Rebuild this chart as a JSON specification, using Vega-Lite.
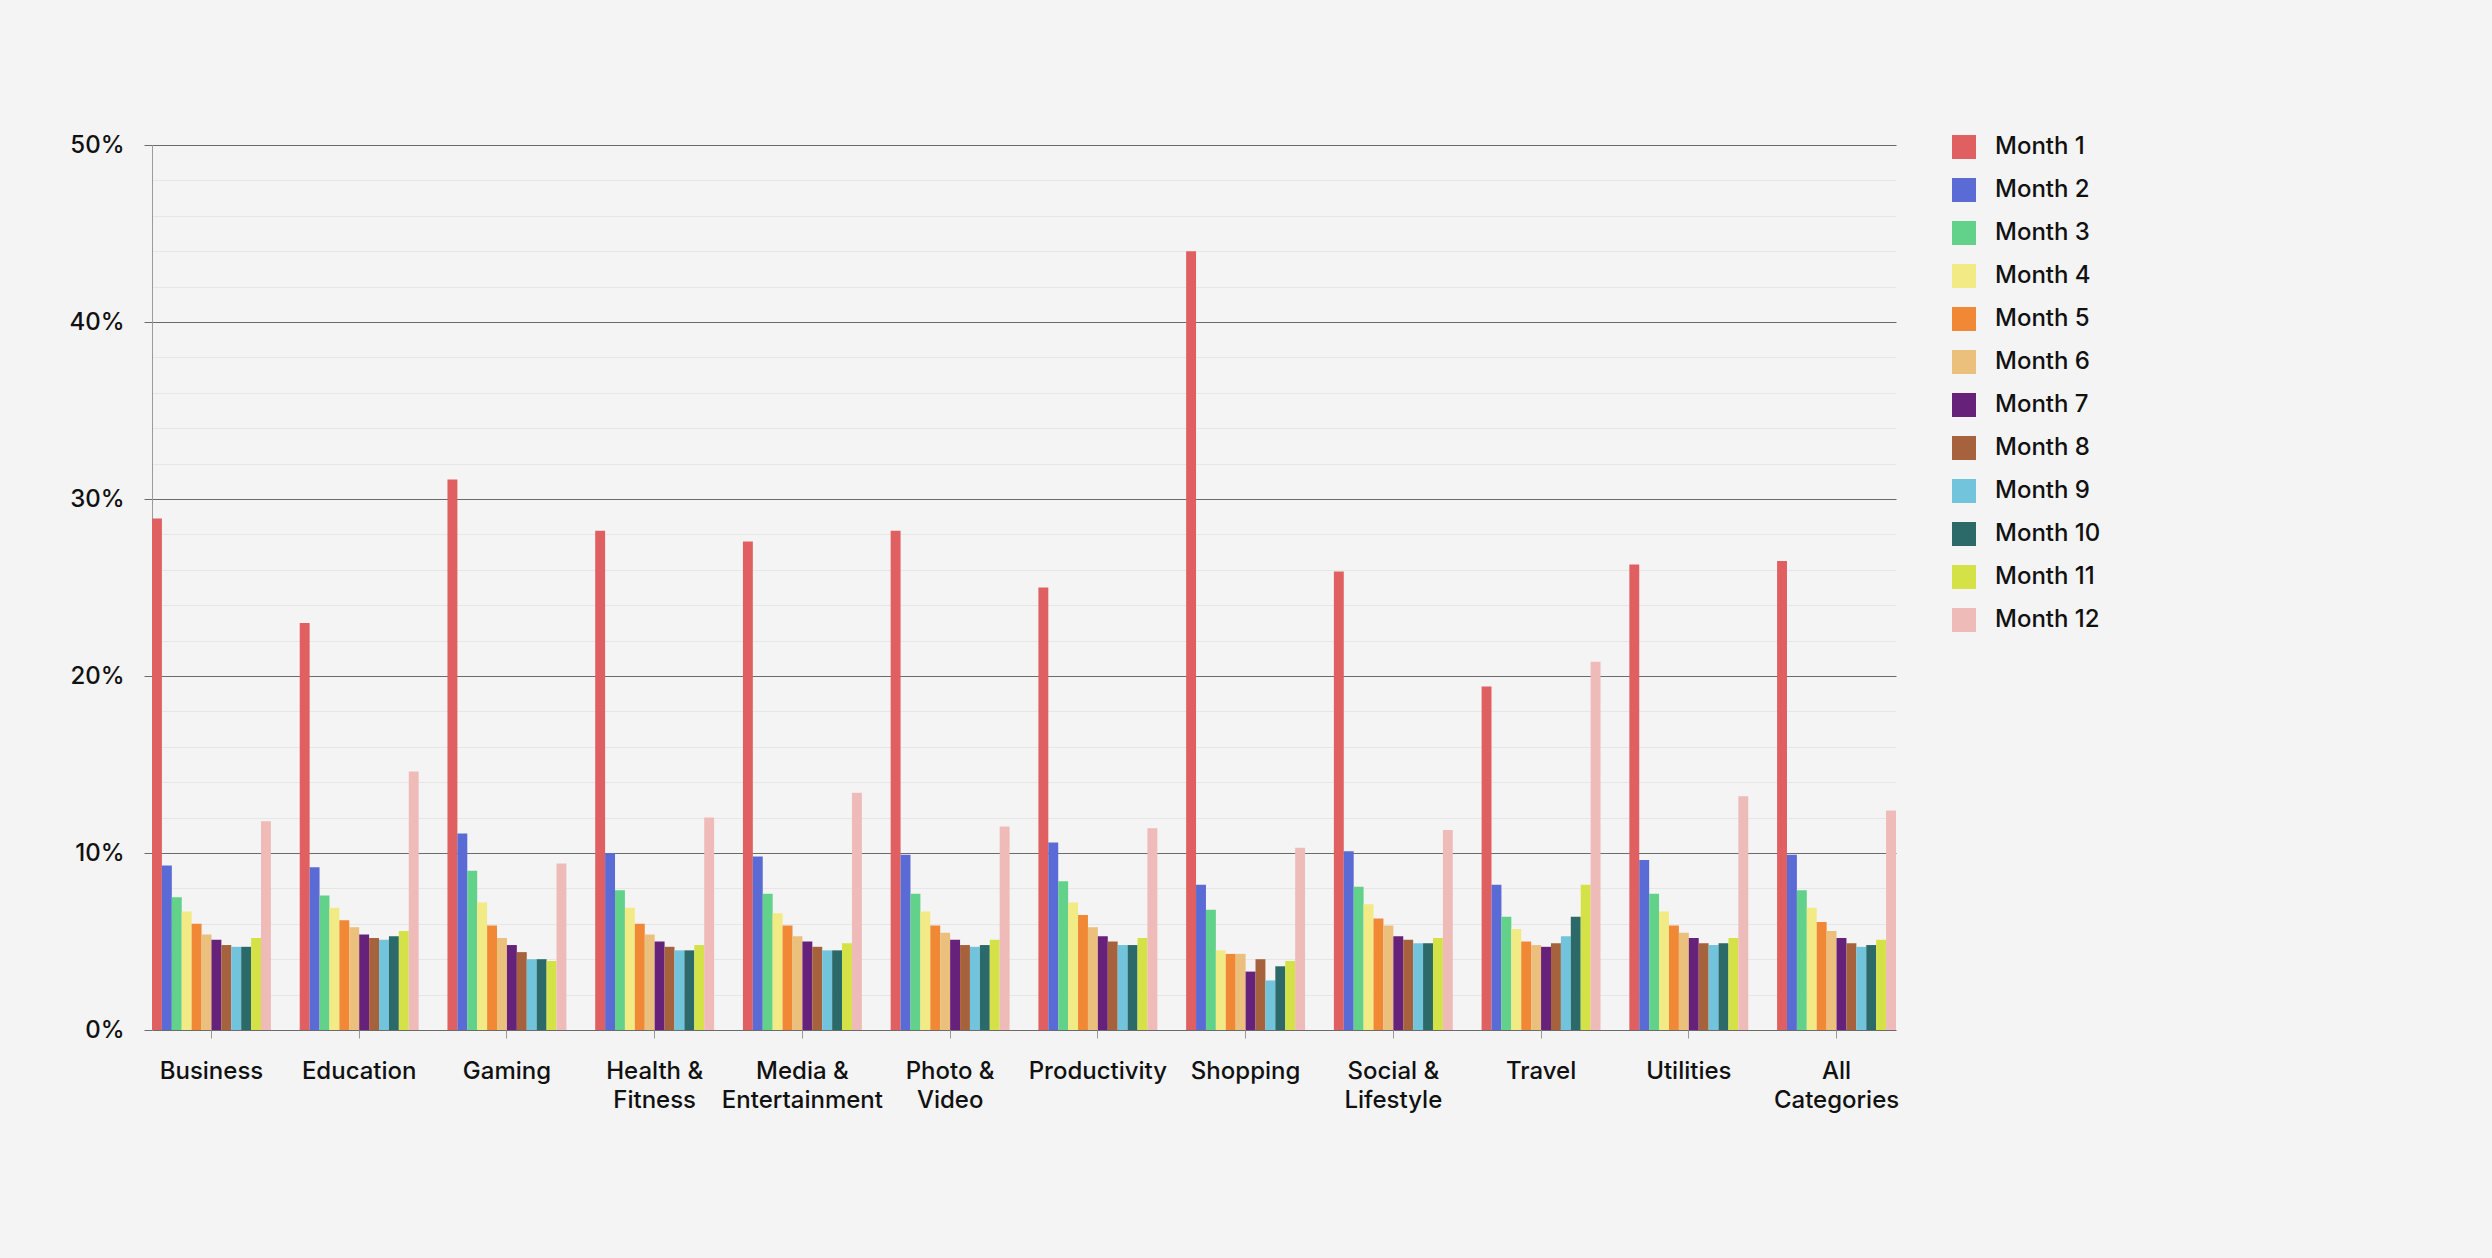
{
  "$schema": "https://vega.github.io/schema/vega-lite/v6.json",
  "width": 1744,
  "height": 885,
  "autosize": {"type": "none"},
  "padding": {"left": 152, "top": 145, "right": 596, "bottom": 228},
  "background": "#f4f4f4",
  "config": {
    "view": {"stroke": null},
    "font": "Inter",
    "axis": {"labelFont": "Inter", "labelColor": "#111111", "labelFontWeight": 500}
  },
  "data": {
    "values": [
      {"category": "Business", "month": "Month 1", "value": 28.9},
      {"category": "Business", "month": "Month 2", "value": 9.3},
      {"category": "Business", "month": "Month 3", "value": 7.5},
      {"category": "Business", "month": "Month 4", "value": 6.7},
      {"category": "Business", "month": "Month 5", "value": 6.0},
      {"category": "Business", "month": "Month 6", "value": 5.4},
      {"category": "Business", "month": "Month 7", "value": 5.1},
      {"category": "Business", "month": "Month 8", "value": 4.8},
      {"category": "Business", "month": "Month 9", "value": 4.7},
      {"category": "Business", "month": "Month 10", "value": 4.7},
      {"category": "Business", "month": "Month 11", "value": 5.2},
      {"category": "Business", "month": "Month 12", "value": 11.8},
      {"category": "Education", "month": "Month 1", "value": 23.0},
      {"category": "Education", "month": "Month 2", "value": 9.2},
      {"category": "Education", "month": "Month 3", "value": 7.6},
      {"category": "Education", "month": "Month 4", "value": 6.9},
      {"category": "Education", "month": "Month 5", "value": 6.2},
      {"category": "Education", "month": "Month 6", "value": 5.8},
      {"category": "Education", "month": "Month 7", "value": 5.4},
      {"category": "Education", "month": "Month 8", "value": 5.2},
      {"category": "Education", "month": "Month 9", "value": 5.1},
      {"category": "Education", "month": "Month 10", "value": 5.3},
      {"category": "Education", "month": "Month 11", "value": 5.6},
      {"category": "Education", "month": "Month 12", "value": 14.6},
      {"category": "Gaming", "month": "Month 1", "value": 31.1},
      {"category": "Gaming", "month": "Month 2", "value": 11.1},
      {"category": "Gaming", "month": "Month 3", "value": 9.0},
      {"category": "Gaming", "month": "Month 4", "value": 7.2},
      {"category": "Gaming", "month": "Month 5", "value": 5.9},
      {"category": "Gaming", "month": "Month 6", "value": 5.2},
      {"category": "Gaming", "month": "Month 7", "value": 4.8},
      {"category": "Gaming", "month": "Month 8", "value": 4.4},
      {"category": "Gaming", "month": "Month 9", "value": 4.0},
      {"category": "Gaming", "month": "Month 10", "value": 4.0},
      {"category": "Gaming", "month": "Month 11", "value": 3.9},
      {"category": "Gaming", "month": "Month 12", "value": 9.4},
      {"category": "Health & Fitness", "month": "Month 1", "value": 28.2},
      {"category": "Health & Fitness", "month": "Month 2", "value": 10.0},
      {"category": "Health & Fitness", "month": "Month 3", "value": 7.9},
      {"category": "Health & Fitness", "month": "Month 4", "value": 6.9},
      {"category": "Health & Fitness", "month": "Month 5", "value": 6.0},
      {"category": "Health & Fitness", "month": "Month 6", "value": 5.4},
      {"category": "Health & Fitness", "month": "Month 7", "value": 5.0},
      {"category": "Health & Fitness", "month": "Month 8", "value": 4.7},
      {"category": "Health & Fitness", "month": "Month 9", "value": 4.5},
      {"category": "Health & Fitness", "month": "Month 10", "value": 4.5},
      {"category": "Health & Fitness", "month": "Month 11", "value": 4.8},
      {"category": "Health & Fitness", "month": "Month 12", "value": 12.0},
      {"category": "Media & Entertainment", "month": "Month 1", "value": 27.6},
      {"category": "Media & Entertainment", "month": "Month 2", "value": 9.8},
      {"category": "Media & Entertainment", "month": "Month 3", "value": 7.7},
      {"category": "Media & Entertainment", "month": "Month 4", "value": 6.6},
      {"category": "Media & Entertainment", "month": "Month 5", "value": 5.9},
      {"category": "Media & Entertainment", "month": "Month 6", "value": 5.3},
      {"category": "Media & Entertainment", "month": "Month 7", "value": 5.0},
      {"category": "Media & Entertainment", "month": "Month 8", "value": 4.7},
      {"category": "Media & Entertainment", "month": "Month 9", "value": 4.5},
      {"category": "Media & Entertainment", "month": "Month 10", "value": 4.5},
      {"category": "Media & Entertainment", "month": "Month 11", "value": 4.9},
      {"category": "Media & Entertainment", "month": "Month 12", "value": 13.4},
      {"category": "Photo & Video", "month": "Month 1", "value": 28.2},
      {"category": "Photo & Video", "month": "Month 2", "value": 9.9},
      {"category": "Photo & Video", "month": "Month 3", "value": 7.7},
      {"category": "Photo & Video", "month": "Month 4", "value": 6.7},
      {"category": "Photo & Video", "month": "Month 5", "value": 5.9},
      {"category": "Photo & Video", "month": "Month 6", "value": 5.5},
      {"category": "Photo & Video", "month": "Month 7", "value": 5.1},
      {"category": "Photo & Video", "month": "Month 8", "value": 4.8},
      {"category": "Photo & Video", "month": "Month 9", "value": 4.7},
      {"category": "Photo & Video", "month": "Month 10", "value": 4.8},
      {"category": "Photo & Video", "month": "Month 11", "value": 5.1},
      {"category": "Photo & Video", "month": "Month 12", "value": 11.5},
      {"category": "Productivity", "month": "Month 1", "value": 25.0},
      {"category": "Productivity", "month": "Month 2", "value": 10.6},
      {"category": "Productivity", "month": "Month 3", "value": 8.4},
      {"category": "Productivity", "month": "Month 4", "value": 7.2},
      {"category": "Productivity", "month": "Month 5", "value": 6.5},
      {"category": "Productivity", "month": "Month 6", "value": 5.8},
      {"category": "Productivity", "month": "Month 7", "value": 5.3},
      {"category": "Productivity", "month": "Month 8", "value": 5.0},
      {"category": "Productivity", "month": "Month 9", "value": 4.8},
      {"category": "Productivity", "month": "Month 10", "value": 4.8},
      {"category": "Productivity", "month": "Month 11", "value": 5.2},
      {"category": "Productivity", "month": "Month 12", "value": 11.4},
      {"category": "Shopping", "month": "Month 1", "value": 44.0},
      {"category": "Shopping", "month": "Month 2", "value": 8.2},
      {"category": "Shopping", "month": "Month 3", "value": 6.8},
      {"category": "Shopping", "month": "Month 4", "value": 4.5},
      {"category": "Shopping", "month": "Month 5", "value": 4.3},
      {"category": "Shopping", "month": "Month 6", "value": 4.3},
      {"category": "Shopping", "month": "Month 7", "value": 3.3},
      {"category": "Shopping", "month": "Month 8", "value": 4.0},
      {"category": "Shopping", "month": "Month 9", "value": 2.8},
      {"category": "Shopping", "month": "Month 10", "value": 3.6},
      {"category": "Shopping", "month": "Month 11", "value": 3.9},
      {"category": "Shopping", "month": "Month 12", "value": 10.3},
      {"category": "Social & Lifestyle", "month": "Month 1", "value": 25.9},
      {"category": "Social & Lifestyle", "month": "Month 2", "value": 10.1},
      {"category": "Social & Lifestyle", "month": "Month 3", "value": 8.1},
      {"category": "Social & Lifestyle", "month": "Month 4", "value": 7.1},
      {"category": "Social & Lifestyle", "month": "Month 5", "value": 6.3},
      {"category": "Social & Lifestyle", "month": "Month 6", "value": 5.9},
      {"category": "Social & Lifestyle", "month": "Month 7", "value": 5.3},
      {"category": "Social & Lifestyle", "month": "Month 8", "value": 5.1},
      {"category": "Social & Lifestyle", "month": "Month 9", "value": 4.9},
      {"category": "Social & Lifestyle", "month": "Month 10", "value": 4.9},
      {"category": "Social & Lifestyle", "month": "Month 11", "value": 5.2},
      {"category": "Social & Lifestyle", "month": "Month 12", "value": 11.3},
      {"category": "Travel", "month": "Month 1", "value": 19.4},
      {"category": "Travel", "month": "Month 2", "value": 8.2},
      {"category": "Travel", "month": "Month 3", "value": 6.4},
      {"category": "Travel", "month": "Month 4", "value": 5.7},
      {"category": "Travel", "month": "Month 5", "value": 5.0},
      {"category": "Travel", "month": "Month 6", "value": 4.8},
      {"category": "Travel", "month": "Month 7", "value": 4.7},
      {"category": "Travel", "month": "Month 8", "value": 4.9},
      {"category": "Travel", "month": "Month 9", "value": 5.3},
      {"category": "Travel", "month": "Month 10", "value": 6.4},
      {"category": "Travel", "month": "Month 11", "value": 8.2},
      {"category": "Travel", "month": "Month 12", "value": 20.8},
      {"category": "Utilities", "month": "Month 1", "value": 26.3},
      {"category": "Utilities", "month": "Month 2", "value": 9.6},
      {"category": "Utilities", "month": "Month 3", "value": 7.7},
      {"category": "Utilities", "month": "Month 4", "value": 6.7},
      {"category": "Utilities", "month": "Month 5", "value": 5.9},
      {"category": "Utilities", "month": "Month 6", "value": 5.5},
      {"category": "Utilities", "month": "Month 7", "value": 5.2},
      {"category": "Utilities", "month": "Month 8", "value": 4.9},
      {"category": "Utilities", "month": "Month 9", "value": 4.8},
      {"category": "Utilities", "month": "Month 10", "value": 4.9},
      {"category": "Utilities", "month": "Month 11", "value": 5.2},
      {"category": "Utilities", "month": "Month 12", "value": 13.2},
      {"category": "All Categories", "month": "Month 1", "value": 26.5},
      {"category": "All Categories", "month": "Month 2", "value": 9.9},
      {"category": "All Categories", "month": "Month 3", "value": 7.9},
      {"category": "All Categories", "month": "Month 4", "value": 6.9},
      {"category": "All Categories", "month": "Month 5", "value": 6.1},
      {"category": "All Categories", "month": "Month 6", "value": 5.6},
      {"category": "All Categories", "month": "Month 7", "value": 5.2},
      {"category": "All Categories", "month": "Month 8", "value": 4.9},
      {"category": "All Categories", "month": "Month 9", "value": 4.7},
      {"category": "All Categories", "month": "Month 10", "value": 4.8},
      {"category": "All Categories", "month": "Month 11", "value": 5.1},
      {"category": "All Categories", "month": "Month 12", "value": 12.4}
    ]
  },
  "mark": {"type": "bar"},
  "encoding": {
    "x": {
      "field": "category",
      "type": "nominal",
      "sort": ["Business", "Education", "Gaming", "Health & Fitness", "Media & Entertainment", "Photo & Video", "Productivity", "Shopping", "Social & Lifestyle", "Travel", "Utilities", "All Categories"],
      "scale": {"paddingInner": 0.195, "paddingOuter": 0},
      "axis": {
        "title": null,
        "labelAngle": 0,
        "labelExpr": "lastindexof(datum.label, ' ') > 0 ? [substring(datum.label, 0, lastindexof(datum.label, ' ')), substring(datum.label, lastindexof(datum.label, ' ') + 1)] : datum.label",
        "labelFontSize": 24,
        "labelLineHeight": 29,
        "labelPadding": 21,
        "tickSize": 8,
        "tickColor": "#999999",
        "domain": false
      }
    },
    "xOffset": {
      "field": "month",
      "type": "nominal",
      "sort": ["Month 1", "Month 2", "Month 3", "Month 4", "Month 5", "Month 6", "Month 7", "Month 8", "Month 9", "Month 10", "Month 11", "Month 12"],
      "scale": {"paddingInner": 0, "paddingOuter": 0}
    },
    "y": {
      "field": "value",
      "type": "quantitative",
      "scale": {"domain": [0, 50], "nice": false},
      "axis": {
        "title": null,
        "values": [0, 2, 4, 6, 8, 10, 12, 14, 16, 18, 20, 22, 24, 26, 28, 30, 32, 34, 36, 38, 40, 42, 44, 46, 48, 50],
        "labelExpr": "datum.value % 10 === 0 ? datum.value + '%' : ''",
        "labelFontSize": 24,
        "labelPadding": 20,
        "tickSize": 8,
        "tickColor": "#6b6b6b",
        "tickOpacity": {"condition": {"test": "datum.value % 10 === 0", "value": 1}, "value": 0},
        "gridColor": {"condition": {"test": "datum.value % 10 === 0", "value": "#6b6b6b"}, "value": "#e6e6e6"},
        "domainColor": "#9a9a9a"
      }
    },
    "color": {
      "field": "month",
      "type": "nominal",
      "scale": {
        "domain": ["Month 1", "Month 2", "Month 3", "Month 4", "Month 5", "Month 6", "Month 7", "Month 8", "Month 9", "Month 10", "Month 11", "Month 12"],
        "range": ["#e06062", "#5b6bd5", "#62d18a", "#f2ea84", "#f08836", "#ebc07c", "#66227a", "#a6623c", "#72c4dc", "#2c6a69", "#d5e247", "#efbbb9"]
      },
      "legend": {
        "title": null,
        "orient": "none",
        "legendX": 1800,
        "legendY": -10,
        "padding": 0,
        "symbolType": "square",
        "symbolSize": 576,
        "symbolStrokeWidth": 0,
        "symbolOpacity": 1,
        "labelFont": "Inter",
        "labelFontSize": 24,
        "labelFontWeight": 500,
        "labelColor": "#111111",
        "labelOffset": 19,
        "rowPadding": 19
      }
    }
  }
}
